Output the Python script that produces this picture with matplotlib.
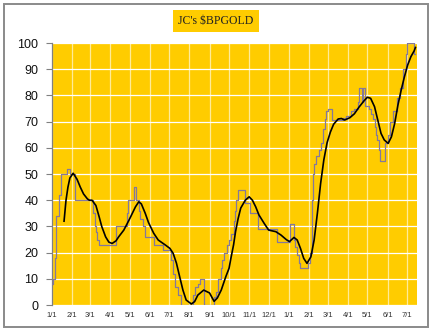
import matplotlib
matplotlib.use("Agg")
import matplotlib.pyplot as plt
import matplotlib.dates as mdates
import pandas as pd
from matplotlib.patches import Rectangle

# ---------------------------------------------------------------------------
# Data
# ---------------------------------------------------------------------------
# raw bullish percent, drawn as steps
BP_DATES = [
    "2007-01-01", "2007-01-03", "2007-01-06", "2007-01-08", "2007-01-12",
    "2007-01-15", "2007-01-24", "2007-01-29", "2007-02-06", "2007-03-05",
    "2007-03-08", "2007-03-10", "2007-03-12", "2007-03-15", "2007-04-10",
    "2007-04-27", "2007-04-28", "2007-05-08", "2007-05-10", "2007-05-15",
    "2007-05-17", "2007-05-22", "2007-05-24", "2007-05-25", "2007-06-07",
    "2007-06-22", "2007-07-04", "2007-07-07", "2007-07-10", "2007-07-14",
    "2007-07-19", "2007-08-07", "2007-08-10", "2007-08-14", "2007-08-17",
    "2007-08-23", "2007-09-08", "2007-09-11", "2007-09-14", "2007-09-18",
    "2007-09-20", "2007-09-24", "2007-09-28", "2007-10-01", "2007-10-04",
    "2007-10-08", "2007-10-10", "2007-10-11", "2007-10-15", "2007-10-26",
    "2007-11-03", "2007-11-14", "2007-12-14", "2008-01-03", "2008-01-09",
    "2008-01-11", "2008-01-13", "2008-01-16", "2008-01-19", "2008-01-31",
    "2008-02-02", "2008-02-05", "2008-02-07", "2008-02-09", "2008-02-12",
    "2008-02-17", "2008-02-20", "2008-02-23", "2008-02-26", "2008-02-28",
    "2008-03-02", "2008-03-08", "2008-03-24", "2008-03-29", "2008-04-06",
    "2008-04-11", "2008-04-16", "2008-04-18", "2008-04-22", "2008-04-24",
    "2008-04-28", "2008-05-04", "2008-05-07", "2008-05-09", "2008-05-12",
    "2008-05-14", "2008-05-16", "2008-05-19", "2008-05-21", "2008-05-28",
    "2008-06-01", "2008-06-05", "2008-06-10", "2008-06-16", "2008-06-20",
    "2008-06-25", "2008-06-30", "2008-07-01", "2008-07-11", "2008-07-14",
]
BP_VALUES = [
    8, 10, 18, 34, 42,
    50, 52, 50, 40, 35,
    30, 28, 25, 23, 30,
    35, 40, 45, 40, 36,
    33, 30, 28, 26, 23,
    21, 17, 12, 7, 4,
    0, 4, 7, 8, 10,
    0, 3, 5, 10, 14,
    17, 20, 23, 25, 27,
    32, 36, 40, 44, 39,
    35, 29, 24, 31, 25,
    22, 19, 16, 14, 16,
    20, 40, 50, 54, 57,
    59, 62, 67, 71, 74,
    75, 70.6, 71.5, 72, 74,
    75, 77.6, 83, 77.6, 83,
    76, 75, 73, 71, 68,
    65, 63, 59, 55, 62,
    65, 70, 74, 79, 83,
    90, 96, 100, 96, 96,
]

# smoothed line
MA_DATES = [
    "2007-01-20", "2007-01-23", "2007-01-26", "2007-01-29", "2007-02-03",
    "2007-02-09", "2007-02-14", "2007-02-19", "2007-02-25", "2007-02-28",
    "2007-03-04", "2007-03-10", "2007-03-15", "2007-03-19", "2007-03-25",
    "2007-03-30", "2007-04-04", "2007-04-10", "2007-04-14", "2007-04-22",
    "2007-04-30", "2007-05-10", "2007-05-15", "2007-05-19", "2007-05-25",
    "2007-05-30", "2007-06-07", "2007-06-14", "2007-06-25", "2007-07-02",
    "2007-07-07", "2007-07-12", "2007-07-17", "2007-07-22", "2007-07-27",
    "2007-08-04", "2007-08-09", "2007-08-14", "2007-08-23", "2007-09-01",
    "2007-09-08", "2007-09-13", "2007-09-19", "2007-09-26", "2007-10-01",
    "2007-10-04", "2007-10-08", "2007-10-11", "2007-10-15", "2007-10-19",
    "2007-10-26", "2007-11-01", "2007-11-06", "2007-11-11", "2007-11-16",
    "2007-11-24", "2007-12-01", "2007-12-12", "2007-12-20", "2007-12-28",
    "2008-01-02", "2008-01-09", "2008-01-14", "2008-01-19", "2008-01-24",
    "2008-01-29", "2008-02-04", "2008-02-09", "2008-02-14", "2008-02-19",
    "2008-02-24", "2008-02-29", "2008-03-05", "2008-03-10", "2008-03-17",
    "2008-03-22", "2008-03-27", "2008-04-04", "2008-04-11", "2008-04-18",
    "2008-04-26", "2008-05-01", "2008-05-06", "2008-05-12", "2008-05-17",
    "2008-05-22", "2008-05-27", "2008-06-02", "2008-06-07", "2008-06-12",
    "2008-06-17", "2008-06-22", "2008-06-27", "2008-07-02", "2008-07-07",
    "2008-07-12", "2008-07-14",
]
MA_VALUES = [
    32, 40, 45, 48.5, 50.3,
    48, 45, 42.4, 40.5, 40,
    40, 38, 33.7, 30, 26,
    24, 23.5, 24.5, 26, 28.6,
    32.4, 37.5, 39.4, 38.6, 35,
    31.5, 27.4, 24.8, 22.9, 21.6,
    19.7, 16, 10.8, 5.7, 1.9,
    0.4, 1.3, 3.8, 5.7, 4.6,
    1.4, 2.7, 5.7, 10.8, 14,
    18, 23, 28, 33, 37,
    40, 41.3, 40, 37.5, 34.4,
    31.2, 28.6, 28, 26.7, 25,
    24.2, 25.8, 24.8, 21.6, 17.8,
    15.9, 18.4, 24.8, 35, 46.4,
    55.5, 62, 66, 69, 71,
    71.2, 70.6, 71.5, 73, 75.5,
    78, 79.3, 78.9, 75.7, 70.6,
    65.5, 63, 61.7, 64.2, 69.3,
    76.3, 82, 87.1, 91.6, 94.8,
    97, 98.3,
]

Y_TICKS = [0, 10, 20, 30, 40, 50, 60, 70, 80, 90, 100]
X_START, X_END = "2007-01-01", "2008-07-16"

GOLD = "#FFCC00"

# ---------------------------------------------------------------------------
fig = plt.figure(figsize=(4.32, 3.31), dpi=100)
fig.patch.set_facecolor("white")
fig.patches.append(Rectangle((0.009, 0.012), 0.982, 0.976, transform=fig.transFigure,
                             fill=False, edgecolor="#8a8a8a", linewidth=1.4))

ax = fig.add_axes([0.1197, 0.0785, 0.845, 0.7915])
ax.set_facecolor(GOLD)

bp_x = pd.to_datetime(BP_DATES)
ma_x = pd.to_datetime(MA_DATES)
ax.plot(bp_x, BP_VALUES, drawstyle="steps-post", color="#84789c", linewidth=0.9, zorder=3)
ax.plot(ma_x, MA_VALUES, color="black", linewidth=1.2, zorder=4)

ax.set_xlim(pd.Timestamp(X_START), pd.Timestamp(X_END))
ax.set_ylim(0, 100)
ax.set_yticks(Y_TICKS)
ax.xaxis.set_major_locator(mdates.MonthLocator())
ax.xaxis.set_major_formatter(mdates.DateFormatter("%-m/%-d"))

ax.grid(axis="y", color="white", linewidth=0.9, zorder=1)
ax.grid(axis="x", color="#FFEB99", linewidth=0.9, zorder=1)
ax.set_axisbelow(True)

for side in ("top", "right", "bottom"):
    ax.spines[side].set_visible(False)
ax.spines["left"].set_color("#808080")
ax.spines["left"].set_linewidth(0.9)

ax.tick_params(axis="y", labelsize=9, length=4, color="#808080", pad=5.5,
               labelcolor="#111111")
ax.tick_params(axis="x", labelsize=5.5, length=0, pad=5, labelcolor="#333333")
for lbl in ax.get_yticklabels() + ax.get_xticklabels():
    lbl.set_family("Liberation Sans")

fig.text(0.5, 0.936, "JC's $BPGOLD", ha="center", va="center",
         family="Liberation Serif", fontsize=8.5, color="#222222",
         bbox=dict(boxstyle="square,pad=0.45", facecolor=GOLD, edgecolor="none"))

fig.savefig("out.png", dpi=100)
